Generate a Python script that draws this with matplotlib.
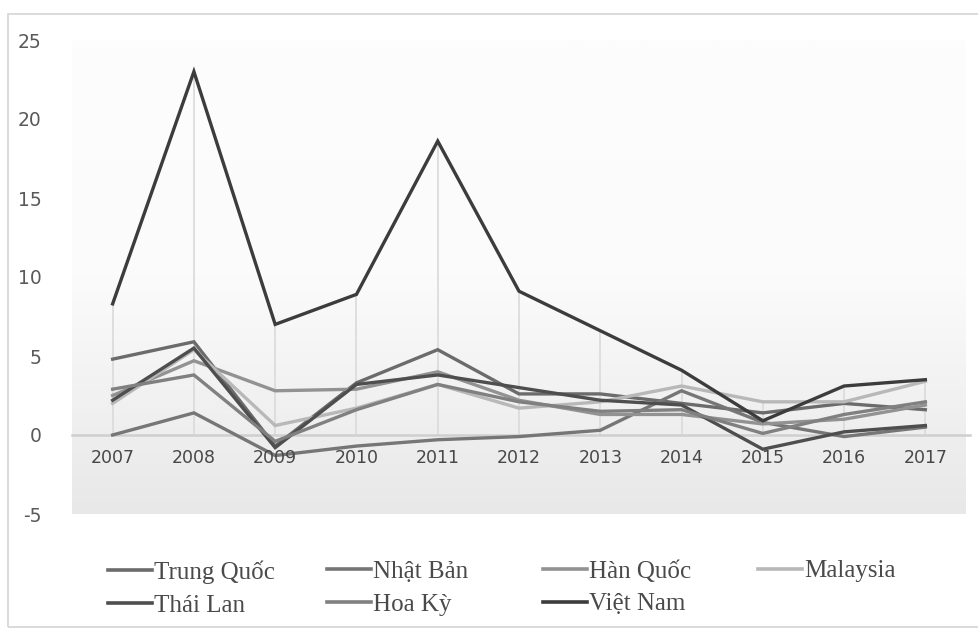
import matplotlib.pyplot as plt
import matplotlib.patches as patches
from matplotlib.lines import Line2D
from matplotlib.ticker import FuncFormatter
import numpy as np

# data
years = [2007, 2008, 2009, 2010, 2011, 2012, 2013, 2014, 2015, 2016, 2017]
trung_quoc = [4.8, 5.9, -0.7, 3.3, 5.4, 2.6, 2.6, 2.0, 1.4, 2.0, 1.6]
nhat_ban = [0.0, 1.4, -1.3, -0.7, -0.3, -0.1, 0.3, 2.8, 0.8, -0.1, 0.5]
han_quoc = [2.5, 4.7, 2.8, 2.9, 4.0, 2.2, 1.3, 1.3, 0.7, 1.0, 1.9]
malaysia = [2.0, 5.4, 0.6, 1.7, 3.2, 1.7, 2.1, 3.1, 2.1, 2.1, 3.4]
thai_lan = [2.2, 5.5, -0.8, 3.2, 3.8, 3.0, 2.2, 1.9, -0.9, 0.2, 0.6]
hoa_ky = [2.9, 3.8, -0.4, 1.6, 3.2, 2.1, 1.5, 1.6, 0.1, 1.3, 2.1]
viet_nam = [8.3, 23.0, 7.0, 8.9, 18.6, 9.1, 6.6, 4.1, 0.9, 3.1, 3.5]

names = ["Trung Quốc", "Nhật Bản", "Hàn Quốc", "Malaysia", "Thái Lan", "Hoa Kỳ", "Việt Nam"]
series = [trung_quoc, nhat_ban, han_quoc, malaysia, thai_lan, hoa_ky, viet_nam]
colors = ["#6b6b6b", "#767676", "#929292", "#b8b8b8", "#4e4e4e", "#808080", "#3c3c3c"]

W, H = 979, 628
fig = plt.figure(figsize=(W / 100, H / 100), dpi=100)
ax = fig.add_axes([72 / W, 1 - 514 / H, (966 - 72) / W, (514 - 40) / H])
ax.set_xlim(2006.5, 2017.5)
ax.set_ylim(-5, 25)

# gradient plot area
grad = np.linspace(0, 1, 256).reshape(-1, 1)
ax.imshow(grad, extent=(2006.5, 2017.5, -5, 25), aspect='auto', origin='upper',
          cmap=plt.matplotlib.colors.LinearSegmentedColormap.from_list('g', ['#fdfdfd', '#fbfbfb', '#e8e8e8']),
          zorder=0)

# drop lines
tops = np.max(np.array(series), axis=0)
ax.vlines(years, 0, tops, color='#dadada', lw=1.2, zorder=1)
ax.axhline(0, color='#cfcfcf', lw=1.8, zorder=1, xmax=1.005, clip_on=False)

for vals, c, n in zip(series, colors, names):
    ax.plot(years, vals, color=c, lw=2.4, zorder=3, label=n, solid_joinstyle='miter')

for s in ax.spines.values():
    s.set_visible(False)
ax.set_yticks([-5, 0, 5, 10, 15, 20, 25])
ax.yaxis.set_major_formatter(FuncFormatter(lambda v, p: '%d' % v))
ax.set_xticks([])
ax.tick_params(axis='y', length=0, pad=22, labelsize=13.5, labelcolor='#5a5a5a')
for yr in years:
    ax.text(yr, -1.45, str(yr), ha='center', va='center', fontsize=12.5, color='#474747')

# outer border
fig.patches.append(patches.Rectangle((8 / W, 1 - 627 / H), 1, (627 - 14) / H, transform=fig.transFigure,
                                     fill=False, edgecolor='#d4d4d4', lw=1.2))

# legend, one block per column
cols = [[0, 4], [1, 5], [2, 6], [3]]
xs = [108, 327, 543, 758]
for col, x in zip(cols, xs):
    handles = [Line2D([], [], color=colors[i], lw=2.6) for i in col]
    labels = [names[i] for i in col]
    leg = fig.legend(handles, labels, loc='upper left', bbox_to_anchor=(x / W, 1 - 560 / H),
                     frameon=False, borderpad=0, borderaxespad=0, handlelength=1.75,
                     handletextpad=0.1, labelspacing=0.42,
                     prop={'family': 'Liberation Serif', 'size': 18})
    for t in leg.get_texts():
        t.set_color('#4a4a4a')

fig.savefig('out.png', dpi=100)
